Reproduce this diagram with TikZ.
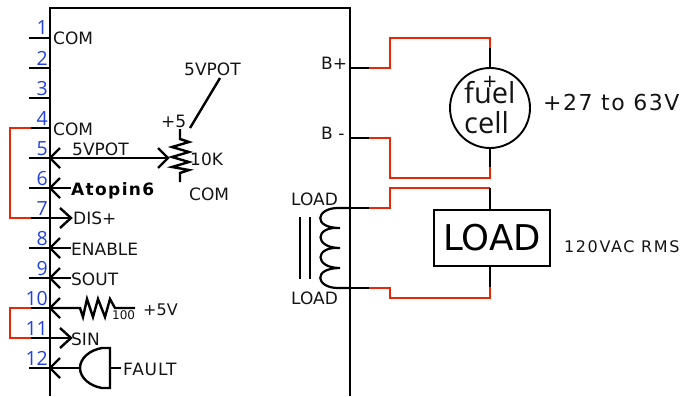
\documentclass[tikz,border=0pt]{standalone}
\usepackage{fontspec}
\setmainfont{DejaVu Sans}
\newfontfamily\opensans{Open Sans}
\definecolor{wirered}{RGB}{230,40,10}
\definecolor{pinblue}{RGB}{35,65,225}
\tikzset{
  wire/.style={draw=black,line width=2.4pt,line cap=butt,line join=miter},
  redwire/.style={draw=wirered,line width=2.4pt,line join=miter},
  lbl/.style={inner sep=0pt,anchor=base west,font=\fontsize{17}{18}\selectfont,text=black!92},
  pinno/.style={inner sep=0pt,anchor=base east,font=\opensans\fontsize{19.5}{20}\selectfont,text=pinblue},
}
\begin{document}
\begin{tikzpicture}[x=1pt,y=-1pt]
\useasboundingbox (0,0) rectangle (684,396);
% chip body
\coordinate (bl) at (50,396); \coordinate (tl) at (50,8);
\coordinate (tr) at (350,8);  \coordinate (br) at (350,396);
\draw[wire] (bl) -- (tl) -- (tr) -- (br);
% pins
\foreach \n/\y in {1/38,2/68,3/98,4/128,5/158,6/188,7/218,8/248,9/278,10/308,11/338,12/368}{
  \coordinate (p\n) at (50,\y);
  \coordinate (s\n) at (29,\y);
  \coordinate (m\n) at (31,\y);
  \coordinate (r\n) at (10,\y);
  \node[pinno] (n\n) at (48,\y-3) {\n};
}
\foreach \n in {1,2,3,5,6,8,9,10,12}{\draw[wire] (s\n) -- (p\n);}
\foreach \n in {4,7,11}{\draw[wire] (m\n) -- (p\n);}
\foreach \n in {5,6,8,9,10,12}{
  \draw[wire] ([shift={(10,-10)}]p\n) -- (p\n) -- ([shift={(10,10)}]p\n);
}
% stubs on left
\foreach \n in {6,8,9}{\draw[wire] (p\n) -- ++(21,0);}
\foreach \n in {7,11}{
  \coordinate (e\n) at ([shift={(21,0)}]p\n);
  \draw[wire] (p\n) -- (e\n);
  \draw[wire] ([shift={(-11,-10)}]e\n) -- (e\n) -- ([shift={(-11,10)}]e\n);
}
% red jumpers
\draw[redwire] (m4) -- (r4) -- (r7) -- (m7);
\draw[redwire] (m10) -- (r10) -- (r11) -- (m11);
% potentiometer
\coordinate (wiper) at (168,158);
\draw[wire] (p5) -- (wiper);
\draw[wire] (158,148) -- (wiper) -- (158,168);
\coordinate (pottop) at (180,129); \coordinate (potbot) at (180,182);
\draw[wire] (pottop) -- (180,139) -- (189,142) -- (172,147) -- (189,152) -- (172,157) -- (189,162) -- (172,167) -- (189,170) -- (180,173) -- (potbot);
\coordinate (sl1) at (220,78); \coordinate (sl2) at (190,128);
\draw[wire] (sl1) -- (sl2);
% resistor at pin 10
\coordinate (r10a) at (80,308); \coordinate (r10b) at (135,308);
\draw[wire] (p10) -- (r10a) -- (83,317) -- (87,299) -- (93,317) -- (98,299) -- (105,317) -- (110,299) -- (115,308) -- (r10b);
% gate at pin 12
\coordinate (g12) at (80,368); \coordinate (gout) at (121,368);
\draw[wire] (p12) -- (g12);
\draw[wire] (110,348) -- (110,388) -- (102,388) .. controls (90,386) and (80,378) .. (g12) .. controls (80,358) and (90,350) .. (102,348) -- cycle;
\draw[wire] (110,368) -- (gout);
% battery
\node[circle,draw=black,line width=1.9pt,minimum size=80pt,inner sep=0pt] (fc) at (490,108) {};
\coordinate (bp) at (350,68); \coordinate (bpm) at (369,68); \coordinate (bpc) at (390,68);
\coordinate (ft) at (490,38); \coordinate (ftm) at (490,48);
\coordinate (bm) at (350,138); \coordinate (bmm) at (369,138); \coordinate (bmc) at (390,138);
\coordinate (fb) at (490,178); \coordinate (fbm) at (490,167);
\draw[wire] (bp) -- (bpm);
\draw[redwire] (bpm) -- (bpc) -- (390,38) -- (ft) -- (ftm);
\draw[wire] (ftm) -- (fc.north);
\draw[wire] (bm) -- (bmm);
\draw[redwire] (bmm) -- (bmc) -- (390,178) -- (fb) -- (fbm);
\draw[wire] (fbm) -- (fc.south);
% load
\node[draw=black,line width=2.4pt,minimum width=116pt,minimum height=56pt,inner sep=0pt,font=\fontsize{35.5}{40}\selectfont] (ld) at (492,238) {LOAD};
\coordinate (lp) at (350,208); \coordinate (lpm) at (369,208);
\coordinate (lm) at (350,288); \coordinate (lmm) at (369,288);
\coordinate (lt) at (490,188); \coordinate (lb) at (490,298); \coordinate (lbm) at (490,287);
\draw[wire] (lp) -- (lpm);
\draw[redwire] (lpm) -- (390,208) -- (390,188) -- (lt);
\draw[wire] (lt) -- (490,210);
\draw[wire] (490,266) -- (lbm);
\draw[redwire] (lbm) -- (lb) -- (390,298) -- (390,288) -- (lmm);
\draw[wire] (lm) -- (lmm);
% coil
\draw[draw=black,line width=2.2pt] (lp) -- (338,208) .. controls (316,208) and (312,228) .. (340,228)
  .. controls (314,226) and (314,248) .. (340,248)
  .. controls (314,246) and (314,268) .. (340,268)
  .. controls (312,268) and (316,288) .. (338,288) -- (lm);
\draw[wire] (300,217) -- (300,279);
\draw[wire] (310,217) -- (310,279);
% labels
\node[lbl] (t1) at (53,45) {COM};
\node[lbl] (t2) at (53,135) {COM};
\node[lbl] (t3) at (72,155) {5VPOT};
\node[lbl,font=\fontsize{17}{18}\selectfont\bfseries,text=black] (t4) at (71,195) {\addfontfeature{LetterSpace=8}Atopin6};
\node[lbl] (t5) at (73,224) {DIS+};
\node[lbl] (t6) at (71,255) {ENABLE};
\node[lbl] (t7) at (71,285) {SOUT};
\node[lbl,font=\fontsize{16}{18}\selectfont] (t8) at (143,315) {+5V};
\node[lbl,font=\fontsize{12}{12}\selectfont] (t9) at (112,319) {100};
\node[lbl] (t10) at (71,345) {SIN};
\node[lbl] (t11) at (123,375) {\addfontfeature{LetterSpace=5}FAULT};
\node[lbl] (t12) at (184,75) {5VPOT};
\node[lbl] (t13) at (161,127) {+5};
\node[lbl] (t14) at (190,165) {10K};
\node[lbl] (t15) at (189,200) {COM};
\node[lbl] (t16) at (321,69) {B+};
\node[lbl] (t17) at (321,139) {B -};
\node[lbl] (t18) at (291,205) {LOAD};
\node[lbl] (t19) at (291,304) {LOAD};
\node[lbl,font=\opensans\fontsize{29}{34}\selectfont] (t20) at (464,103) {fuel};
\node[lbl,font=\opensans\fontsize{29}{34}\selectfont] (t21) at (464,133) {cell};
\node[inner sep=0pt,font=\fontsize{18}{20}\selectfont] (t22) at (490,82) {+};
\node[lbl,font=\fontsize{22}{22}\selectfont] (t23) at (543,110) {\addfontfeature{LetterSpace=7}+27 to 63V};
\node[lbl,font=\fontsize{16}{16}\selectfont] (t24) at (564,252) {\addfontfeature{LetterSpace=10}120VAC RMS};
\end{tikzpicture}
\end{document}
